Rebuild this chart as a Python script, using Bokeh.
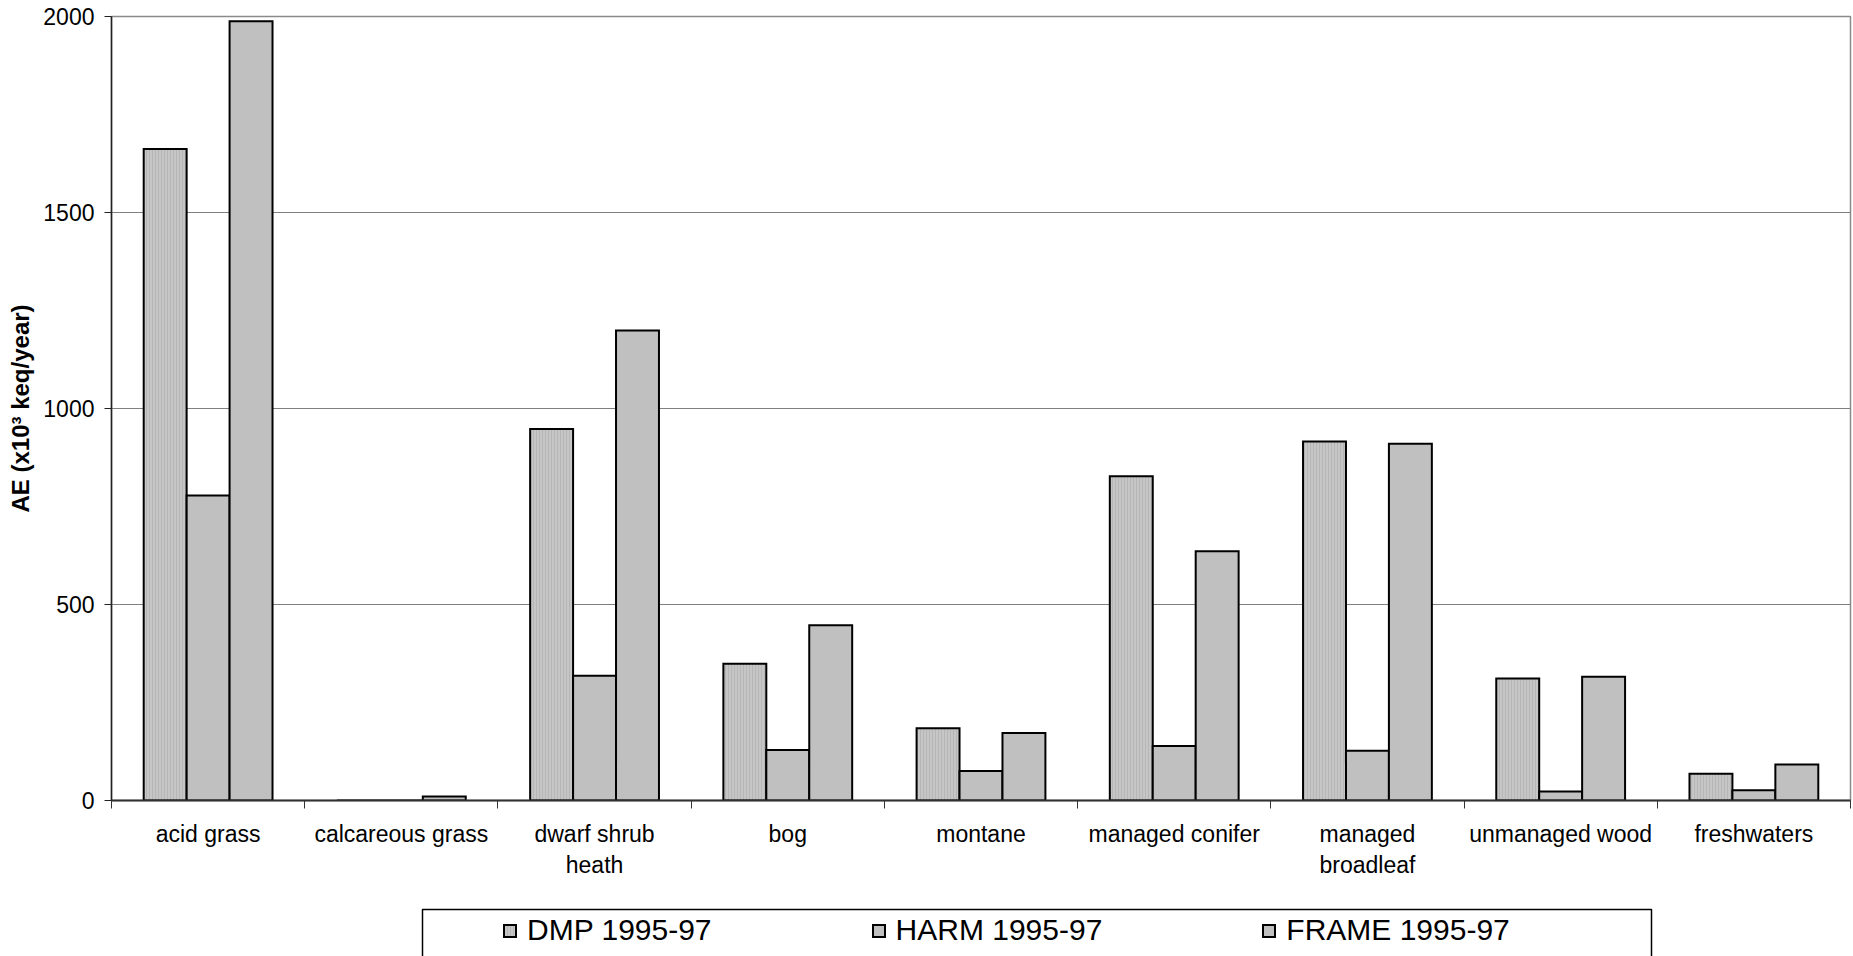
import numpy as np
from bokeh.plotting import figure
from bokeh.layouts import column
from bokeh.models import (ColumnDataSource, Range1d, FixedTicker, Legend, LegendItem,
                          BoxAnnotation)
from bokeh.embed import file_html
from bokeh.resources import INLINE

# Habitat categories (newline = wrapped axis label)
categories = ["acid grass", "calcareous grass", "dwarf shrub\nheath", "bog", "montane",
              "managed conifer", "managed\nbroadleaf", "unmanaged wood", "freshwaters"]

# Accumulated exceedance, x10^3 keq/year
series_names = ["DMP 1995-97", "HARM 1995-97", "FRAME 1995-97"]
dmp_values = [1662, 0, 948, 349, 184, 827, 916, 311, 68]
harm_values = [778, 0, 318, 129, 75, 139, 127, 23, 26]
frame_values = [1988, 10, 1199, 447, 172, 636, 910, 316, 92]

y_ticks = [0, 500, 1000, 1500, 2000]

FONT = "Liberation Sans"
BAR_W = 1 / 4.5  # three bars per category with a 150% gap

n = len(categories)
xs = np.arange(n)

bar_styles = [dict(hatch_pattern="|", hatch_color="#b6b6b6", hatch_scale=3, hatch_weight=1,
                   fill_color="#c6c6c6"),
              dict(fill_color="#c0c0c0"),
              dict(fill_color="#c0c0c0")]

p = figure(width=1853, height=900,
           x_range=Range1d(-0.5, n - 0.5), y_range=Range1d(0, 2000),
           output_backend="svg", toolbar_location=None,
           min_border_left=111, min_border_right=3,
           min_border_top=16, min_border_bottom=100)

p.background_fill_color = "white"
p.border_fill_color = "white"
p.outline_line_color = "#8a8a8a"
p.outline_line_width = 1.5

# bars
for k, vals in enumerate([dmp_values, harm_values, frame_values]):
    src = ColumnDataSource(dict(x=xs + (k - 1) * BAR_W, top=vals))
    p.vbar(x="x", top="top", bottom=0, width=BAR_W, source=src,
           line_color="black", line_width=2, line_join="miter", **bar_styles[k])

# grid
p.xgrid.grid_line_color = None
p.ygrid.grid_line_color = "#808080"
p.ygrid.grid_line_width = 1

# y axis
p.yaxis.ticker = FixedTicker(ticks=y_ticks)
p.yaxis.axis_line_color = "#222222"
p.yaxis.axis_line_width = 1.5
p.yaxis.major_tick_line_color = "#222222"
p.yaxis.major_tick_in = 0
p.yaxis.major_tick_out = 7
p.yaxis.minor_tick_line_color = None
p.yaxis.major_label_standoff = 10
p.yaxis.major_label_text_font = FONT
p.yaxis.major_label_text_font_size = "23px"
p.yaxis.major_label_text_color = "black"
p.yaxis.axis_label = "AE (x10³ keq/year)"
p.yaxis.axis_label_text_font = FONT
p.yaxis.axis_label_text_font_size = "24px"
p.yaxis.axis_label_text_font_style = "bold"
p.yaxis.axis_label_text_color = "black"
p.yaxis.axis_label_standoff = 6

# x axis: labels at category centres, ticks between categories
p.xaxis.ticker = FixedTicker(ticks=list(xs), minor_ticks=list(np.arange(-0.5, n, 1.0)))
p.xaxis.major_label_overrides = {int(i): c for i, c in enumerate(categories)}
p.xaxis.axis_line_color = "#333333"
p.xaxis.axis_line_width = 2
p.xaxis.major_tick_line_color = None
p.xaxis.major_tick_in = 0
p.xaxis.major_tick_out = 0
p.xaxis.minor_tick_line_color = "#333333"
p.xaxis.minor_tick_line_width = 1
p.xaxis.minor_tick_in = 0
p.xaxis.minor_tick_out = 8
p.xaxis.major_label_standoff = 12
p.xaxis.major_label_text_font = FONT
p.xaxis.major_label_text_font_size = "23px"
p.xaxis.major_label_text_color = "black"

# legend strip under the chart (its frame lines up with the chart frame)
lg = figure(width=1853, height=56, x_range=Range1d(0, 1), y_range=Range1d(0, 1),
            output_backend="svg", toolbar_location=None,
            min_border_left=111, min_border_right=3, min_border_top=0, min_border_bottom=0)
lg.axis.visible = False
lg.grid.visible = False
lg.outline_line_color = None
lg.background_fill_color = "white"
lg.border_fill_color = "white"

lg.add_layout(BoxAnnotation(left=311, right=1540, top=47, bottom=-30,
                            left_units="screen", right_units="screen",
                            top_units="screen", bottom_units="screen",
                            fill_color="white", fill_alpha=1,
                            line_color="black", line_alpha=1, line_width=1.5))

# hidden one-row renderers that only supply the legend swatches
items = []
for nm, st in zip(series_names, bar_styles):
    r = lg.vbar(x=[0.5], top=[1], bottom=0, width=0.1, visible=False,
                line_color="black", line_width=2, line_join="miter", **st)
    items.append(LegendItem(label=nm, renderers=[r], index=0))

legend = Legend(items=items, orientation="horizontal", location=(391, 9),
                spacing=159, padding=4, margin=0,
                glyph_width=15, glyph_height=15, label_standoff=10,
                label_text_font=FONT, label_text_font_size="30px",
                label_text_color="black", click_policy="none",
                border_line_color=None, background_fill_alpha=0)
lg.add_layout(legend, "center")

layout = column(p, lg, spacing=0)
open("out.html", "w").write(file_html(layout, INLINE))
